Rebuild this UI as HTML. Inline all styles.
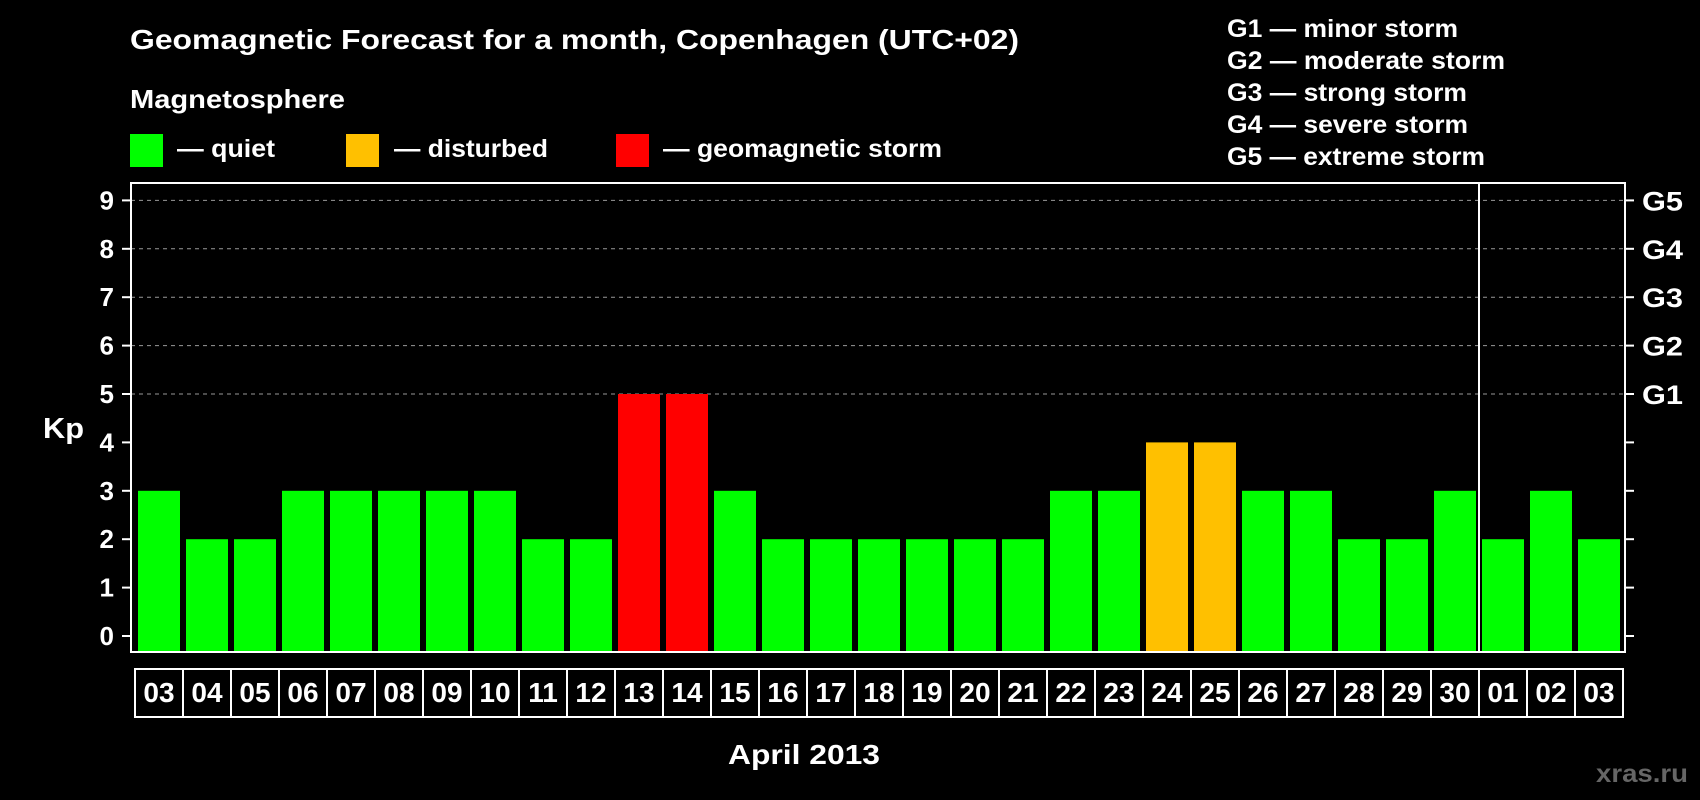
<!DOCTYPE html>
<html><head><meta charset="utf-8"><style>
body{margin:0;background:#000;}
svg{display:block;font-family:"Liberation Sans",Arial,sans-serif;font-weight:bold;}
</style></head><body>
<svg id="c" width="1700" height="800" viewBox="0 0 1700 800">
<text x="130" y="49" fill="#fff" font-size="28" textLength="889" lengthAdjust="spacingAndGlyphs">Geomagnetic Forecast for a month, Copenhagen (UTC+02)</text>
<text x="130" y="108" fill="#fff" font-size="26" textLength="215" lengthAdjust="spacingAndGlyphs">Magnetosphere</text>
<g><rect x="130" y="134" width="33" height="33" fill="#00ff00"/><text x="177" y="157" fill="#fff" font-size="25" textLength="98" lengthAdjust="spacingAndGlyphs">— quiet</text></g>
<g><rect x="346" y="134" width="33" height="33" fill="#ffc000"/><text x="394" y="157" fill="#fff" font-size="25" textLength="154" lengthAdjust="spacingAndGlyphs">— disturbed</text></g>
<g><rect x="616" y="134" width="33" height="33" fill="#ff0000"/><text x="663" y="157" fill="#fff" font-size="25" textLength="279" lengthAdjust="spacingAndGlyphs">— geomagnetic storm</text></g>
<g fill="#fff" font-size="25">
<text x="1227" y="37" textLength="231" lengthAdjust="spacingAndGlyphs">G1 — minor storm</text>
<text x="1227" y="69" textLength="278" lengthAdjust="spacingAndGlyphs">G2 — moderate storm</text>
<text x="1227" y="101" textLength="240" lengthAdjust="spacingAndGlyphs">G3 — strong storm</text>
<text x="1227" y="133" textLength="241" lengthAdjust="spacingAndGlyphs">G4 — severe storm</text>
<text x="1227" y="165" textLength="258" lengthAdjust="spacingAndGlyphs">G5 — extreme storm</text>
</g>
<text x="43" y="438" fill="#fff" font-size="29" textLength="41" lengthAdjust="spacingAndGlyphs">Kp</text>
<text x="728" y="764" fill="#fff" font-size="28" textLength="152" lengthAdjust="spacingAndGlyphs">April 2013</text>
<text x="1596" y="782" fill="#666" font-size="25" textLength="92" lengthAdjust="spacingAndGlyphs">xras.ru</text>
<g id="plot"></g>
</svg>
<script>
const days=["03","04","05","06","07","08","09","10","11","12","13","14","15","16","17","18","19","20","21","22","23","24","25","26","27","28","29","30","01","02","03"];
const kp=[3,2,2,3,3,3,3,3,2,2,5,5,3,2,2,2,2,2,2,3,3,4,4,3,3,2,2,3,2,3,2];
const yTicks=[0,1,2,3,4,5,6,7,8,9];
const gLabels=["G1","G2","G3","G4","G5"];
const gLevels=[5,6,7,8,9];
const monthBreak=28;
const NS="http://www.w3.org/2000/svg";
const g=document.getElementById('plot');
const L=131,R=1625,T=183,B=652,y0=636,unit=48.4,x0=138,pitch=48,bw=42;
const y=v=>y0-v*unit;
const x=i=>x0+i*pitch;
function mk(t,a){const e=document.createElementNS(NS,t);for(const k in a)e.setAttribute(k,a[k]);g.appendChild(e);return e;}
gLevels.forEach(v=>{
  const l=mk('line',{x1:L,x2:R,y1:y(v),y2:y(v),stroke:'#999','stroke-dasharray':'4,4','stroke-width':1});
  
  
});
kp.forEach((v,i)=>{
  const col=v>=5?'#ff0000':(v>=4?'#ffc000':'#00ff00');
  const r=mk('rect',{x:x(i),y:y(v),width:bw,height:B-y(v),fill:col});
  
  
});
const fr=mk('rect',{x:L,y:T,width:R-L,height:B-T,fill:'none',stroke:'#fff','stroke-width':2});


const sx=x(monthBreak)-3;
const sep=mk('line',{x1:sx,x2:sx,y1:T,y2:B,stroke:'#fff','stroke-width':2});


yTicks.forEach(v=>{
  mk('line',{x1:122,x2:L,y1:y(v),y2:y(v),stroke:'#fff','stroke-width':2});
  mk('line',{x1:R,x2:1634,y1:y(v),y2:y(v),stroke:'#fff','stroke-width':2});
  const t=mk('text',{x:114,y:y(v)+9,fill:'#fff','font-size':26,'text-anchor':'end'});
  t.textContent=v;
  
  
});
gLabels.forEach((s,i)=>{
  const t=mk('text',{x:1642,y:y(gLevels[i])+10,fill:'#fff','font-size':27,textLength:41,lengthAdjust:'spacingAndGlyphs'});
  t.textContent=s;
  
  
});
days.forEach((d,i)=>{
  const cx=x(i)-3;
  const c=mk('rect',{x:cx,y:669,width:pitch,height:48,fill:'none',stroke:'#fff','stroke-width':2});
  
  
  const t=mk('text',{x:cx+pitch/2,y:702,fill:'#fff','font-size':28,'text-anchor':'middle'});
  t.textContent=d;
  
  
});
</script>
</body></html>
